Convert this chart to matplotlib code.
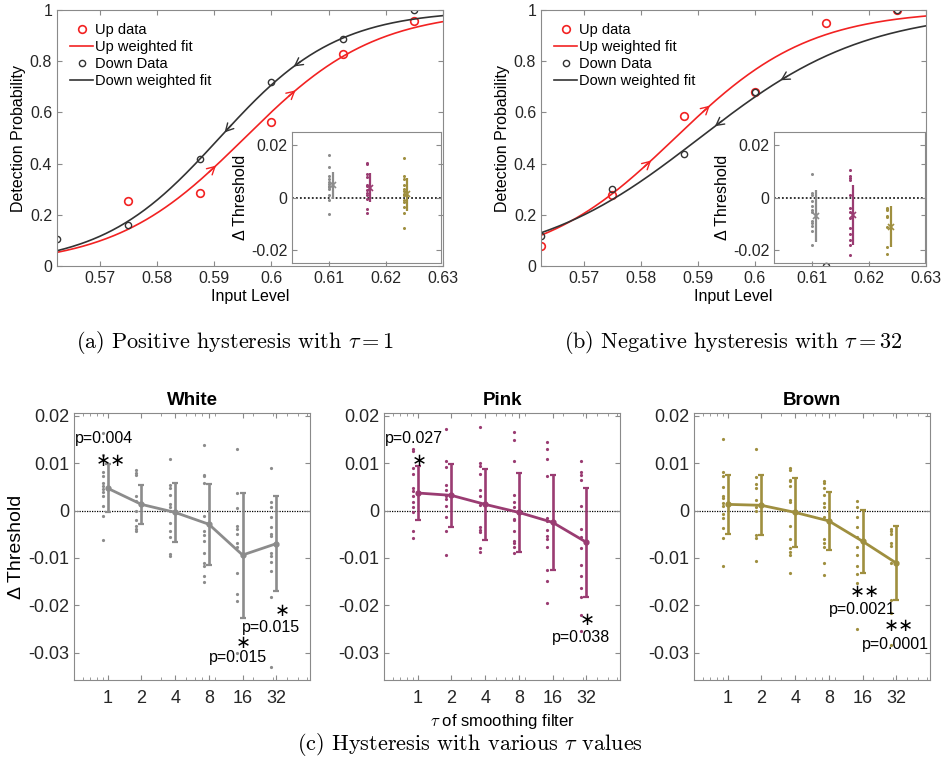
import matplotlib
matplotlib.use("Agg")
import matplotlib.pyplot as plt
import numpy as np
from matplotlib.ticker import FuncFormatter, LogLocator, NullFormatter

plt.rcParams["font.family"] = ["Liberation Sans", "DejaVu Sans"]
plt.rcParams["mathtext.fontset"] = "cm"

# ---- psychometric curves (top row) ----
levels = [0.5625, 0.575, 0.5875, 0.6, 0.6125, 0.625]
pos_up = [np.nan, 0.252, 0.287, 0.561, 0.828, 0.958]
pos_down = [0.105, 0.162, 0.419, 0.717, 0.885, 1.0]
neg_up = [0.077, 0.279, 0.585, 0.680, 0.950, 1.0]
neg_down = [0.119, 0.299, 0.439, 0.681, 0.0, 1.0]

# logistic fit parameters (threshold, slope scale)
pos_up_fit = (0.5953, 0.0114)
pos_down_fit = (0.5909, 0.0103)
neg_up_fit = (0.5860, 0.0118)
neg_down_fit = (0.5903, 0.0146)

# arrow positions along the fitted curves
pos_up_arrows = [0.5903, 0.6042]
pos_down_arrows = [0.5918, 0.6039]
neg_up_arrows = [0.5818, 0.5921]
neg_down_arrows = [0.5930, 0.6045]

# ---- threshold shifts per smoothing constant (bottom row) ----
taus = [1, 2, 4, 8, 16, 32]

white_dots = [
    [0.0164, 0.0117, 0.0081, 0.0072, 0.0058, 0.0052, 0.0045, 0.0040, 0.0031, 0.0010, -0.0011, -0.0062],
    [0.0085, 0.0080, 0.0075, 0.0031, 0.0021, 0.0000, -0.0020, -0.0032, -0.0039, -0.0044],
    [0.0109, 0.0054, 0.0047, 0.0033, 0.0014, 0.0008, -0.0002, -0.0027, -0.0044, -0.0055, -0.0092, -0.0097],
    [0.0139, 0.0075, 0.0072, 0.0058, -0.0011, -0.0044, -0.0051, -0.0064, -0.0090, -0.0110, -0.0117, -0.0139, -0.0150],
    [0.0130, 0.0038, 0.0006, -0.0032, -0.0039, -0.0049, -0.0069, -0.0076, -0.0131, -0.0177, -0.0191, -0.0301],
    [0.0089, 0.0017, 0.0008, -0.0014, -0.0034, -0.0049, -0.0054, -0.0089, -0.0097, -0.0108, -0.0127, -0.0183, -0.0330],
]
white_mean = [0.0047, 0.0013, -0.0004, -0.0029, -0.0094, -0.0070]
white_err = [0.0051, 0.0041, 0.0062, 0.0086, 0.0132, 0.0100]

pink_dots = [
    [0.0130, 0.0126, 0.0089, 0.0077, 0.0047, 0.0042, 0.0030, 0.0017, 0.0008, -0.0004, -0.0044, -0.0058],
    [0.0172, 0.0104, 0.0092, 0.0054, 0.0044, 0.0030, 0.0024, 0.0010, -0.0013, -0.0044, -0.0094],
    [0.0177, 0.0100, 0.0093, 0.0077, 0.0044, 0.0031, 0.0012, -0.0034, -0.0041, -0.0046, -0.0080, -0.0087],
    [0.0165, 0.0149, 0.0104, 0.0033, 0.0017, 0.0008, -0.0018, -0.0021, -0.0044, -0.0064, -0.0069, -0.0076, -0.0090],
    [0.0144, 0.0130, 0.0109, 0.0072, -0.0015, -0.0023, -0.0041, -0.0054, -0.0061, -0.0076, -0.0125, -0.0148, -0.0196],
    [0.0104, 0.0082, 0.0075, 0.0065, 0.0010, -0.0039, -0.0055, -0.0080, -0.0115, -0.0138, -0.0164, -0.0182, -0.0220, -0.0254],
]
pink_mean = [0.0037, 0.0032, 0.0013, -0.0004, -0.0025, -0.0067]
pink_err = [0.0056, 0.0066, 0.0075, 0.0083, 0.0101, 0.0115]

brown_dots = [
    [0.0151, 0.0082, 0.0072, 0.0049, 0.0031, 0.0026, 0.0015, 0.0010, -0.0008, -0.0016, -0.0037, -0.0059, -0.0118],
    [0.0130, 0.0070, 0.0056, 0.0047, 0.0023, 0.0008, 0.0000, -0.0051, -0.0058, -0.0106],
    [0.0089, 0.0086, 0.0065, 0.0063, 0.0051, 0.0023, 0.0017, -0.0032, -0.0061, -0.0080, -0.0087, -0.0094, -0.0132],
    [0.0063, 0.0058, 0.0047, 0.0033, 0.0015, 0.0008, -0.0014, -0.0061, -0.0069, -0.0076, -0.0110, -0.0136],
    [0.0021, 0.0008, -0.0014, -0.0034, -0.0055, -0.0076, -0.0094, -0.0117, -0.0135, -0.0153, -0.0251],
    [-0.0039, -0.0044, -0.0049, -0.0069, -0.0074, -0.0111, -0.0189, -0.0217, -0.0284],
]
brown_mean = [0.0013, 0.0011, -0.0004, -0.0022, -0.0065, -0.0111]
brown_err = [0.0063, 0.0063, 0.0073, 0.0061, 0.0067, 0.0079]

# significance labels: star position/text, p-value position/text
white_marks = [(1.07, 0.0105, "∗∗", 0.93, 0.0153, "p=0.004"),
               (16.4, -0.0279, "∗", 14.7, -0.0311, "p=0.015"),
               (36.1, -0.0212, "∗", 28.8, -0.0248, "p=0.015")]
pink_marks = [(1.03, 0.0105, "∗", 0.92, 0.0153, "p=0.027"),
              (32.6, -0.0231, "∗", 28.8, -0.0268, "p=0.038")]
brown_marks = [(16.8, -0.0173, "∗∗", 15.9, -0.0210, "p=0.0021"),
               (33.8, -0.0244, "∗∗", 31.5, -0.0282, "p=0.0001")]

GRAY = "#8c8c8c"
PINK = "#9a3c72"
OLIVE = "#9f8f3f"
RED = "#f22222"
DARK = "#333333"
BOX = "#8a8a8a"

W, H = 941, 778
fig = plt.figure(figsize=(W / 100, H / 100), dpi=100)


def px_axes(left, top, right, bottom):
    return fig.add_axes([left / W, 1 - bottom / H, (right - left) / W, (bottom - top) / H])


def g_fmt(v, pos):
    return f"{v:g}"


def style_box(ax, size):
    for s in ax.spines.values():
        s.set_color(BOX)
        s.set_linewidth(0.8)
    ax.tick_params(which="both", direction="in", top=True, right=True,
                   color=BOX, labelcolor="#262626", labelsize=size)
    ax.tick_params(which="major", length=3.5)
    ax.tick_params(which="minor", length=2)


def logistic(x, fit):
    mu, s = fit
    return 1.0 / (1.0 + np.exp(-(np.asarray(x) - mu) / s))


def psychometric(ax, up, down, up_fit, down_fit, up_arrows, down_arrows):
    xs = np.linspace(0.5625, 0.63, 300)
    ax.plot(levels, up, "o", ls="none", mfc="none", mec=RED, ms=5.5, mew=1.2, label="Up data")
    ax.plot(xs, logistic(xs, up_fit), color=RED, lw=1.2, label="Up weighted fit")
    ax.plot(levels, down, "o", ls="none", mfc="none", mec=DARK, ms=4.5, mew=1.0, label="Down Data")
    ax.plot(xs, logistic(xs, down_fit), color=DARK, lw=1.2, label="Down weighted fit")
    for arrows, fit, sign, col in [(up_arrows, up_fit, 1, RED), (down_arrows, down_fit, -1, DARK)]:
        for xa in arrows:
            x0 = xa - sign * 0.0012
            ax.annotate("", xy=(xa, logistic(xa, fit)), xytext=(x0, logistic(x0, fit)),
                        arrowprops=dict(arrowstyle="->,head_length=0.55,head_width=0.3",
                                        color=col, lw=1.0, shrinkA=0, shrinkB=0))
    ax.set_xlim(0.5625, 0.63)
    ax.set_ylim(0, 1)
    ax.set_xticks([0.57, 0.58, 0.59, 0.6, 0.61, 0.62, 0.63])
    ax.set_yticks([0, 0.2, 0.4, 0.6, 0.8, 1])
    ax.xaxis.set_major_formatter(FuncFormatter(g_fmt))
    ax.yaxis.set_major_formatter(FuncFormatter(g_fmt))
    style_box(ax, 11.5)
    ax.set_xlabel("Input Level", fontsize=11.5, labelpad=2)
    ax.set_ylabel("Detection Probability", fontsize=11.5, labelpad=3)
    ax.legend(loc="upper left", frameon=False, fontsize=10.5, handlelength=1.6,
              handletextpad=0.1, labelspacing=0.2, borderaxespad=0.4, borderpad=0.5)


def inset(ax, idx):
    ax.patch.set_alpha(0)
    for i, (dots, mean, err, col) in enumerate([(white_dots, white_mean, white_err, GRAY),
                                               (pink_dots, pink_mean, pink_err, PINK),
                                               (brown_dots, brown_mean, brown_err, OLIVE)]):
        vals = dots[idx]
        ax.plot([i + 1] * len(vals), vals, "o", ls="none", ms=2.2, color=col, mec="none")
        ax.errorbar([i + 1.1], [mean[idx]], yerr=[err[idx]], color=col, lw=1.6,
                    marker="x", ms=4, mew=1.2, capsize=0)
    ax.axhline(0, color="#222222", ls=(0, (1, 1.2)), lw=1.3, zorder=0)
    ax.set_xlim(0, 4)
    ax.set_ylim(-0.025, 0.025)
    ax.set_xticks([])
    ax.set_yticks([-0.02, 0, 0.02])
    ax.yaxis.set_major_formatter(FuncFormatter(g_fmt))
    style_box(ax, 11.5)
    ax.set_ylabel("Δ Threshold", fontsize=11.5, labelpad=2)


ax_a = px_axes(57, 10, 443, 266)
psychometric(ax_a, pos_up, pos_down, pos_up_fit, pos_down_fit, pos_up_arrows, pos_down_arrows)
ax_ai = px_axes(292, 132, 441, 263)
inset(ax_ai, 0)

ax_b = px_axes(541, 10, 926, 266)
psychometric(ax_b, neg_up, neg_down, neg_up_fit, neg_down_fit, neg_up_arrows, neg_down_arrows)
ax_bi = px_axes(774, 132, 925, 263)
inset(ax_bi, 5)

panels = [("White", white_dots, white_mean, white_err, GRAY, white_marks, 74),
          ("Pink", pink_dots, pink_mean, pink_err, PINK, pink_marks, 384),
          ("Brown", brown_dots, brown_mean, brown_err, OLIVE, brown_marks, 694)]

for k, (name, dots, mean, err, col, marks, left) in enumerate(panels):
    ax = px_axes(left, 413, left + 236, 680)
    ax.set_xscale("log")
    for t, vals in zip(taus, dots):
        ax.plot([t * 0.9] * len(vals), vals, "o", ls="none", ms=2.3, color=col, mec="none")
    ax.axhline(0, color="black", ls=(0, (1, 1)), lw=0.9, zorder=1)
    ax.errorbar(taus, mean, yerr=err, color=col, lw=2.0, elinewidth=1.9, capsize=2.5,
                capthick=1.6, marker="o", ms=3.5, zorder=3)
    for sx, sy, star, tx, ty, ptxt in marks:
        ax.text(sx, sy, star, ha="center", va="center", fontsize=13, color="black",
                family=["DejaVu Sans"])
        ax.text(tx, ty, ptxt, ha="center", va="center", fontsize=11.5, color="black")
    ax.set_xlim(0.5, 64)
    ax.set_ylim(-0.0358, 0.0206)
    ax.set_xticks(taus)
    ax.set_xticklabels([str(t) for t in taus])
    ax.xaxis.set_minor_locator(LogLocator(base=10, subs=np.arange(2, 10)))
    ax.xaxis.set_minor_formatter(NullFormatter())
    ax.set_yticks([-0.03, -0.02, -0.01, 0, 0.01, 0.02])
    ax.yaxis.set_major_formatter(FuncFormatter(g_fmt))
    style_box(ax, 13)
    ax.tick_params(axis="x", pad=7)
    ax.set_title(name, fontsize=13.5, fontweight="bold", pad=6)
    if k == 0:
        ax.set_ylabel("Δ Threshold", fontsize=14, labelpad=2)
    if k == 1:
        ax.set_xlabel(r"$\tau$ of smoothing filter", fontsize=12, labelpad=4)

cap = dict(ha="center", va="center", fontsize=16, family="cmr10")
fig.text(235 / W, 1 - 342 / H, r"(a) Positive hysteresis with $\tau = 1$", **cap)
fig.text(733 / W, 1 - 342 / H, r"(b) Negative hysteresis with $\tau = 32$", **cap)
fig.text(470 / W, 1 - 745 / H, r"(c) Hysteresis with various $\tau$ values", **cap)

fig.savefig("out.png", dpi=100)
